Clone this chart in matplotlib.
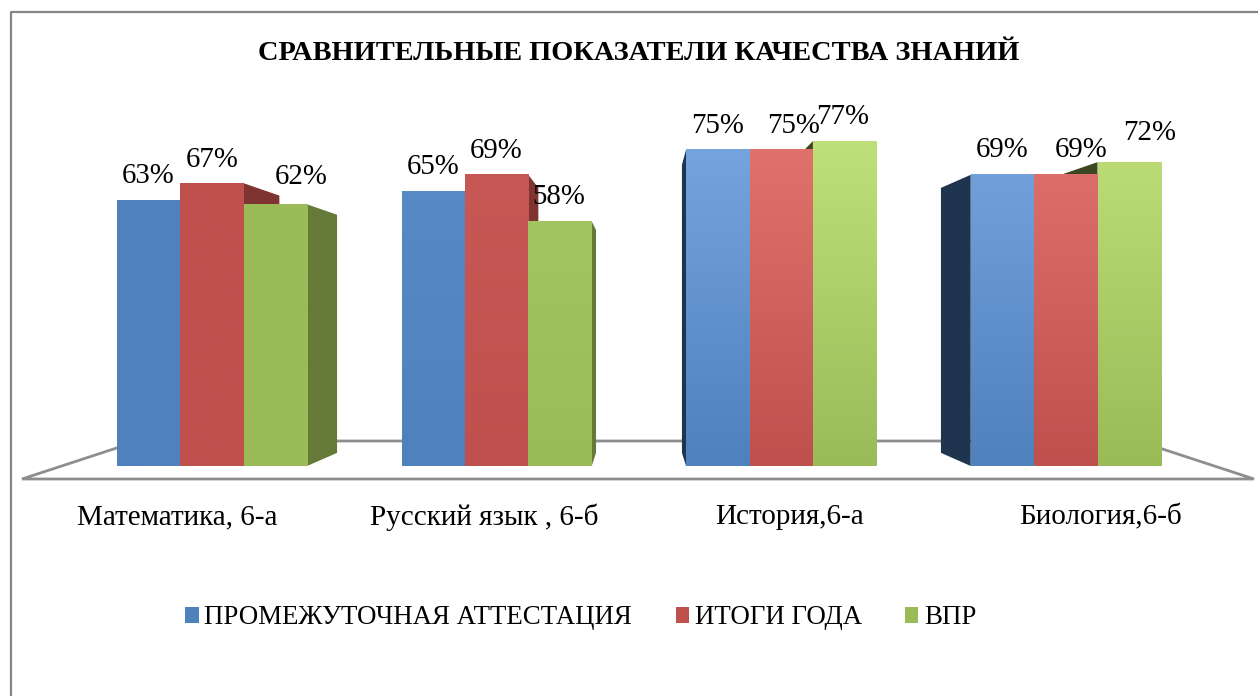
import matplotlib
matplotlib.use('Agg')
import matplotlib.pyplot as plt
import matplotlib.colors as mcolors
from matplotlib.lines import Line2D
from matplotlib.patches import Patch
import numpy as np

categories = ['Математика, 6-а', 'Русский язык , 6-б', 'История,6-а', 'Биология,6-б']
series_names = ['ПРОМЕЖУТОЧНАЯ АТТЕСТАЦИЯ', 'ИТОГИ ГОДА', 'ВПР']
attestation = [63, 65, 75, 69]
year_total = [67, 69, 75, 69]
vpr = [62, 58, 77, 72]

title = 'СРАВНИТЕЛЬНЫЕ ПОКАЗАТЕЛИ КАЧЕСТВА ЗНАНИЙ'

# styles
colors = ['#4F81BD', '#C0504D', '#9BBB59']
right_side = ['#1F344F', '#7F3432', '#667A38']
left_side = ['#1F344F', '#7F3432', '#3C4721']
# how far the top of a bar goes towards its light colour, per category
top_light = [0.0, 0.15, 0.62, 0.55]
light_colors = ['#8DB8F0', '#F58580', '#D5F58C']

plt.rcParams['font.family'] = ['Liberation Serif', 'DejaVu Serif']

W, H = 1258, 696
PX_X = 284.6     # pixels between groups
PX_Y = 4.22      # pixels per percent
X0, Y0 = 212, 466  # pixel of first group centre and of value 0
BAR_W = 63.4 / PX_X
VP = ((640 - X0) / PX_X, (Y0 - 320) / PX_Y)  # vanishing point of the 3d sides
DEPTH = 0.09

fig = plt.figure(figsize=(W / 100, H / 100), dpi=100)
ax = fig.add_axes([0, 0, 1, 1])
xlim = (-X0 / PX_X, (W - X0) / PX_X)
ylim = ((Y0 - H) / PX_Y, Y0 / PX_Y)

# chart border, cut by the right and bottom of the picture
fig.add_artist(Line2D([10.5 / W, 10.5 / W, 1], [0, 1 - 12 / H, 1 - 12 / H],
                      color='#868686', lw=1.6))

# floor
floor_front = -13 / PX_Y
floor_back = 25 / PX_Y
front_l, front_r = (22 - X0) / PX_X, (1254 - X0) / PX_X
back_l, back_r = (138 - X0) / PX_X, (1138 - X0) / PX_X
ax.plot([back_l, front_l, front_r, back_r, back_l],
        [floor_back, floor_front, floor_front, floor_back, floor_back],
        color='#8E8E8E', lw=2, zorder=1, solid_joinstyle='miter')

x = np.arange(len(categories))
values = [attestation, year_total, vpr]
label_dx = [[0, 0, 26], [0, 0, -1], [0, 12, -2], [0, 15, 20]]
label_dy = [[24, 23, 27], [25, 24, 24], [24, 24, 24], [25, 25, 29]]

for s in range(3):
    pos = x + (s - 1) * BAR_W
    bars = ax.bar(pos, values[s], width=BAR_W, color=colors[s], zorder=4 + s, linewidth=0)
    for g, bar in enumerate(bars):
        v = values[s][g]
        # 3d side face, the edge of the bar going to the vanishing point
        vp_left = bar.get_x() + BAR_W > VP[0]
        if vp_left:
            ex = bar.get_x()
            side = left_side[s]
        else:
            ex = bar.get_x() + BAR_W
            side = right_side[s]
        ex2 = ex + (VP[0] - ex) * DEPTH
        ax.fill([ex, ex2, ex2, ex], [v, v + (VP[1] - v) * DEPTH, DEPTH * VP[1], 0],
                color=side, lw=0, zorder=2 + s * 0.1 if vp_left else 3 + s * 0.1)
        # vertical gradient on the front face
        c0 = np.array(mcolors.to_rgb(colors[s]))
        c1 = np.array(mcolors.to_rgb(light_colors[s]))
        t = np.linspace(top_light[g], 0, 64)[:, None, None]
        grad = c0[None, None, :] * (1 - t) + c1[None, None, :] * t
        im = ax.imshow(grad, extent=[bar.get_x(), bar.get_x() + BAR_W, 0, v],
                       aspect='auto', zorder=4 + s, interpolation='bilinear')
        ax.annotate('%d%%' % v, xy=(pos[g], v), xytext=(label_dx[g][s], label_dy[g][s]),
                    textcoords='offset pixels', ha='center', va='center',
                    fontsize=20.8, color='black', zorder=10)

ax.set_xlim(xlim)
ax.set_ylim(ylim)
ax.axis('off')

# title and category names
fig.text(639 / W, 1 - 54 / H, title, ha='center', va='center', fontsize=20.4, fontweight='bold')
cat_dx = [-35, -12, 8, 35]
for i, c in enumerate(categories):
    ax.annotate(c, xy=(x[i], 0), xytext=(cat_dx[i], -51), textcoords='offset pixels',
                ha='center', va='center', fontsize=21)

handles = [Patch(color=c, lw=0) for c in colors]
fig.legend(handles, series_names, ncol=3, loc='center', bbox_to_anchor=(581 / W, 1 - 618 / H),
           fontsize=19.4, frameon=False, handlelength=0.49, handleheight=0.49,
           handletextpad=0.22, columnspacing=1.61, borderpad=0, borderaxespad=0)

fig.savefig('out.png', dpi=100)
